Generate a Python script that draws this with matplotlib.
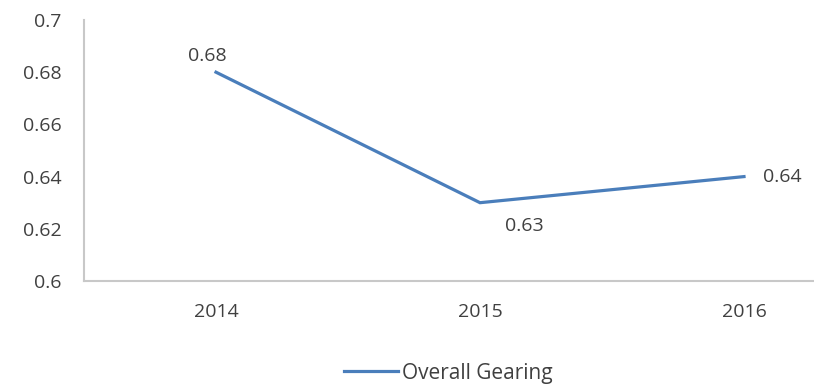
import matplotlib.pyplot as plt

years = ['2014', '2015', '2016']
gearing = [0.68, 0.63, 0.64]
label_offsets = [(-6, 12), (32, -17), (14, 0)]
label_ha = ['center', 'center', 'left']

plt.rcParams['font.family'] = ['Open Sans', 'DejaVu Sans']

fig = plt.figure(figsize=(8.14, 3.84), dpi=100)
ax = fig.add_axes([84 / 814, 1 - 281 / 384, 792 / 814, 261 / 384])

x = range(len(years))
ax.plot(x, gearing, color='#4a7ebb', lw=2.3, solid_joinstyle='miter', label='Overall Gearing')

for i, v in enumerate(gearing):
    ax.annotate(f'{v:.2f}', (i, v), xytext=label_offsets[i], textcoords='offset points',
                ha=label_ha[i], va='center', fontsize=14, color='#404040')

ax.set_xlim(-0.5, 2.5)
ax.set_ylim(0.6, 0.7)
ax.set_xticks(list(x))
ax.set_xticklabels(years)
ax.set_yticks([0.6, 0.62, 0.64, 0.66, 0.68, 0.7])
ax.set_yticklabels(['0.6', '0.62', '0.64', '0.66', '0.68', '0.7'])
ax.tick_params(length=0, labelsize=14, labelcolor='#404040')
ax.tick_params(axis='x', pad=16)
ax.tick_params(axis='y', pad=16)

for s in ['top', 'right']:
    ax.spines[s].set_visible(False)
for s in ['left', 'bottom']:
    ax.spines[s].set_color('#c8c8c8')
    ax.spines[s].set_linewidth(1.5)

fig.legend(loc='lower left', bbox_to_anchor=(338 / 814, -0.015), frameon=False, fontsize=15,
           handlelength=2.6, handletextpad=0.15, labelcolor='#404040',
           borderpad=0, borderaxespad=0.3)

fig.savefig('out.png', dpi=100)
